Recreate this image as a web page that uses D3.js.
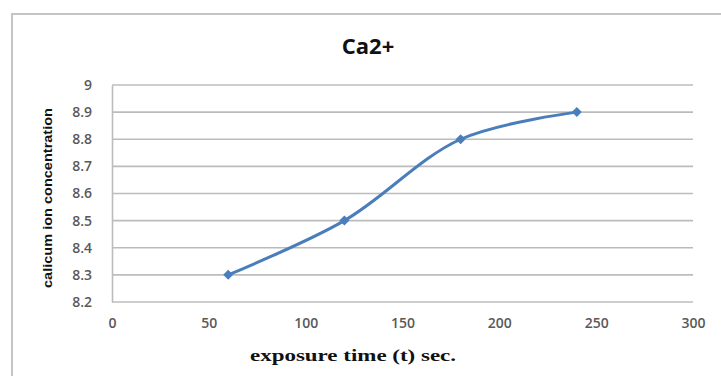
<!DOCTYPE html>
<html>
<head>
<meta charset="utf-8">
<script src="https://cdn.jsdelivr.net/npm/d3@7"></script>
<style>
  body { margin: 0; background: #fff; }
  svg { display: block; }
</style>
</head>
<body>
<script>
// chart values
var times = [60, 120, 180, 240];
var calcium = [8.3, 8.5, 8.8, 8.9];
var xTicks = [0, 50, 100, 150, 200, 250, 300];
var yTicks = [8.2, 8.3, 8.4, 8.5, 8.6, 8.7, 8.8, 8.9, 9];

var W = 721, H = 376;
var margin = {top: 85, right: 28, bottom: 74, left: 112},
    width = W - margin.left - margin.right,
    height = H - margin.top - margin.bottom;

var svg = d3.select("body").append("svg")
            .attr("width", W)
            .attr("height", H);

// outer chart frame (only top and left show)
svg.append("path")
   .attr("d", "M12,376V14H721")
   .attr("fill", "none")
   .attr("stroke", "#c4c4c4")
   .attr("stroke-width", 2);

var x = d3.scaleLinear().domain([0, 300]).range([0, width]);
var y = d3.scaleLinear().domain([8.2, 9]).range([height, 0]);

var g = svg.append("g")
           .attr("transform", "translate(" + margin.left + "," + margin.top + ")");

// horizontal gridlines
g.append("g")
 .selectAll("line")
 .data(yTicks)
 .enter().append("line")
 .attr("x1", 0).attr("x2", width)
 .attr("y1", function (d) { return y(d); })
 .attr("y2", function (d) { return y(d); })
 .attr("stroke", "#bcbcbc")
 .attr("stroke-width", 1.6);

// y axis
var yAxis = g.append("g")
             .call(d3.axisLeft(y).tickValues(yTicks).tickSize(0).tickPadding(20)
                     .tickFormat(function (d) { return d3.format("")(+d.toFixed(1)); }));
yAxis.select(".domain").attr("stroke", "#bcbcbc").attr("stroke-width", 1.6);

// x axis
var xAxis = g.append("g")
             .attr("transform", "translate(0," + height + ")")
             .call(d3.axisBottom(x).tickValues(xTicks).tickSize(0).tickPadding(16));
xAxis.select(".domain").remove();

svg.selectAll(".tick text")
   .attr("fill", "#595959")
   .style("font-family", "'Open Sans', sans-serif")
   .style("font-size", "14px")
   .style("font-weight", "600");

// series
var pts = times.map(function (t, i) { return [t, calcium[i]]; });

var line = d3.line()
             .x(function (d) { return x(d[0]); })
             .y(function (d) { return y(d[1]); })
             .curve(d3.curveCatmullRom.alpha(0.5));

g.append("path")
 .datum(pts)
 .attr("fill", "none")
 .attr("stroke", "#4a7ebb")
 .attr("stroke-width", 3)
 .attr("d", line);

// square diamonds, like the spreadsheet marker
g.selectAll(".marker")
 .data(pts)
 .enter().append("path")
 .attr("class", "marker")
 .attr("d", d3.symbol().type(d3.symbolSquare).size(50))
 .attr("transform", function (d) { return "translate(" + x(d[0]) + "," + y(d[1]) + ") rotate(45)"; })
 .attr("fill", "#4a7ebb");

// title
svg.append("text")
   .attr("x", 368).attr("y", 54)
   .attr("text-anchor", "middle")
   .style("font-family", "'Open Sans', sans-serif")
   .style("font-size", "22px")
   .style("font-weight", "bold")
   .attr("fill", "#111")
   .text("Ca2+");

// x axis title
svg.append("text")
   .attr("x", 353).attr("y", 361)
   .attr("text-anchor", "middle")
   .attr("textLength", 206)
   .attr("lengthAdjust", "spacingAndGlyphs")
   .style("font-family", "'Liberation Serif', 'DejaVu Serif', serif")
   .style("font-size", "17px")
   .style("font-weight", "bold")
   .attr("fill", "#111")
   .text("exposure time (t) sec.");

// y axis title
svg.append("text")
   .attr("transform", "translate(52,198) rotate(-90)")
   .attr("text-anchor", "middle")
   .attr("textLength", 180)
   .attr("lengthAdjust", "spacingAndGlyphs")
   .style("font-family", "'Liberation Sans Narrow', 'Liberation Sans', sans-serif")
   .style("font-size", "13px")
   .style("font-weight", "bold")
   .attr("fill", "#111")
   .text("calicum ion concentration");
</script>
</body>
</html>
